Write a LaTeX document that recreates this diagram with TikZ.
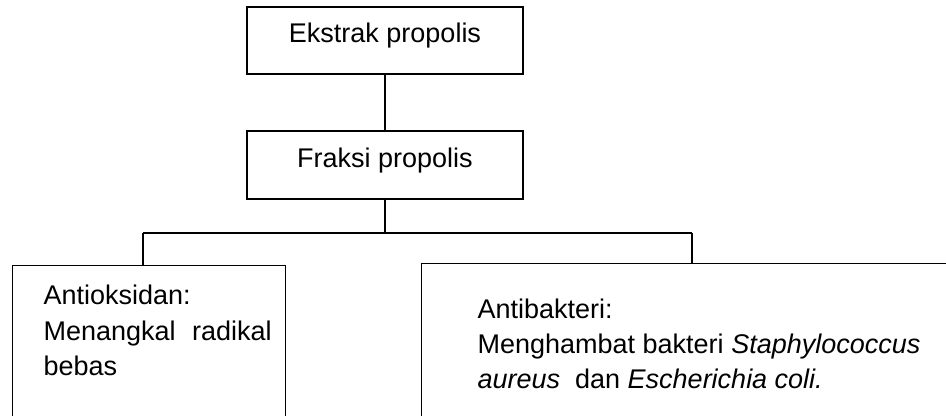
\documentclass[tikz,border=0pt]{standalone}
\usepackage{fontspec}
\setmainfont{Liberation Sans}
\usetikzlibrary{calc}

\tikzset{every picture/.style={line width=0.6pt}}
\tikzset{
  box/.style={draw, rectangle, inner sep=0pt, font=\fontsize{13.5pt}{17.5pt}\selectfont},
  topbox/.style={box, minimum width=138pt, text height=9.6pt, text depth=7.2pt},
  txt/.style={anchor=base west, inner sep=0pt, align=left, font=\fontsize{13.5pt}{17.5pt}\selectfont},
  link/.style={line width=1pt},
  bar/.style={line width=0.7pt}
}

\begin{document}
\begin{tikzpicture}[x=0.5pt,y=0.5pt,yscale=-1,xscale=1]
\useasboundingbox (0,0) rectangle (946,416);

%Shape: Rectangle [ekstrak]
\node (ekstrak) [topbox, minimum height=33.5pt] at (385,40.5) {Ekstrak propolis};
%Shape: Rectangle [fraksi]
\node (fraksi) [topbox, minimum height=34pt] at (385,165) {Fraksi propolis};
%Shape: Rectangle [anti] (runs off the page below)
\node (anti) [box, anchor=north west, minimum width=136.5pt, minimum height=100pt] at (12,265) {};
%Shape: Rectangle [antib] (runs off the page below and right)
\node (antib) [box, anchor=north west, minimum width=300pt, minimum height=100pt] at (421,263) {};

%Straight Lines
\coordinate (fork) at (385,233);
\coordinate (forkL) at (143,233);
\coordinate (forkR) at (692,233);
\draw [link] (ekstrak) -- (fraksi);
\draw [link] (fraksi) -- (fork);
\draw [bar] (forkL) -- (forkR);
\draw [link] (forkL) -- (forkL |- anti.north);
\draw [link] (forkR) -- (forkR |- antib.north);

% Text Node (base = last line)
\node (antitext) [txt] at (43,375) {Antioksidan:\\[0.5pt] \makebox[114pt][s]{Menangkal radikal}\\ bebas};
% Text Node (base = last line)
\node (antibtext) [txt] at (477,388) {Antibakteri:\\ Menghambat bakteri \textit{Staphylococcus}\\ \textit{aureus}\ \ dan \textit{Escherichia coli.}};

\end{tikzpicture}
\end{document}
